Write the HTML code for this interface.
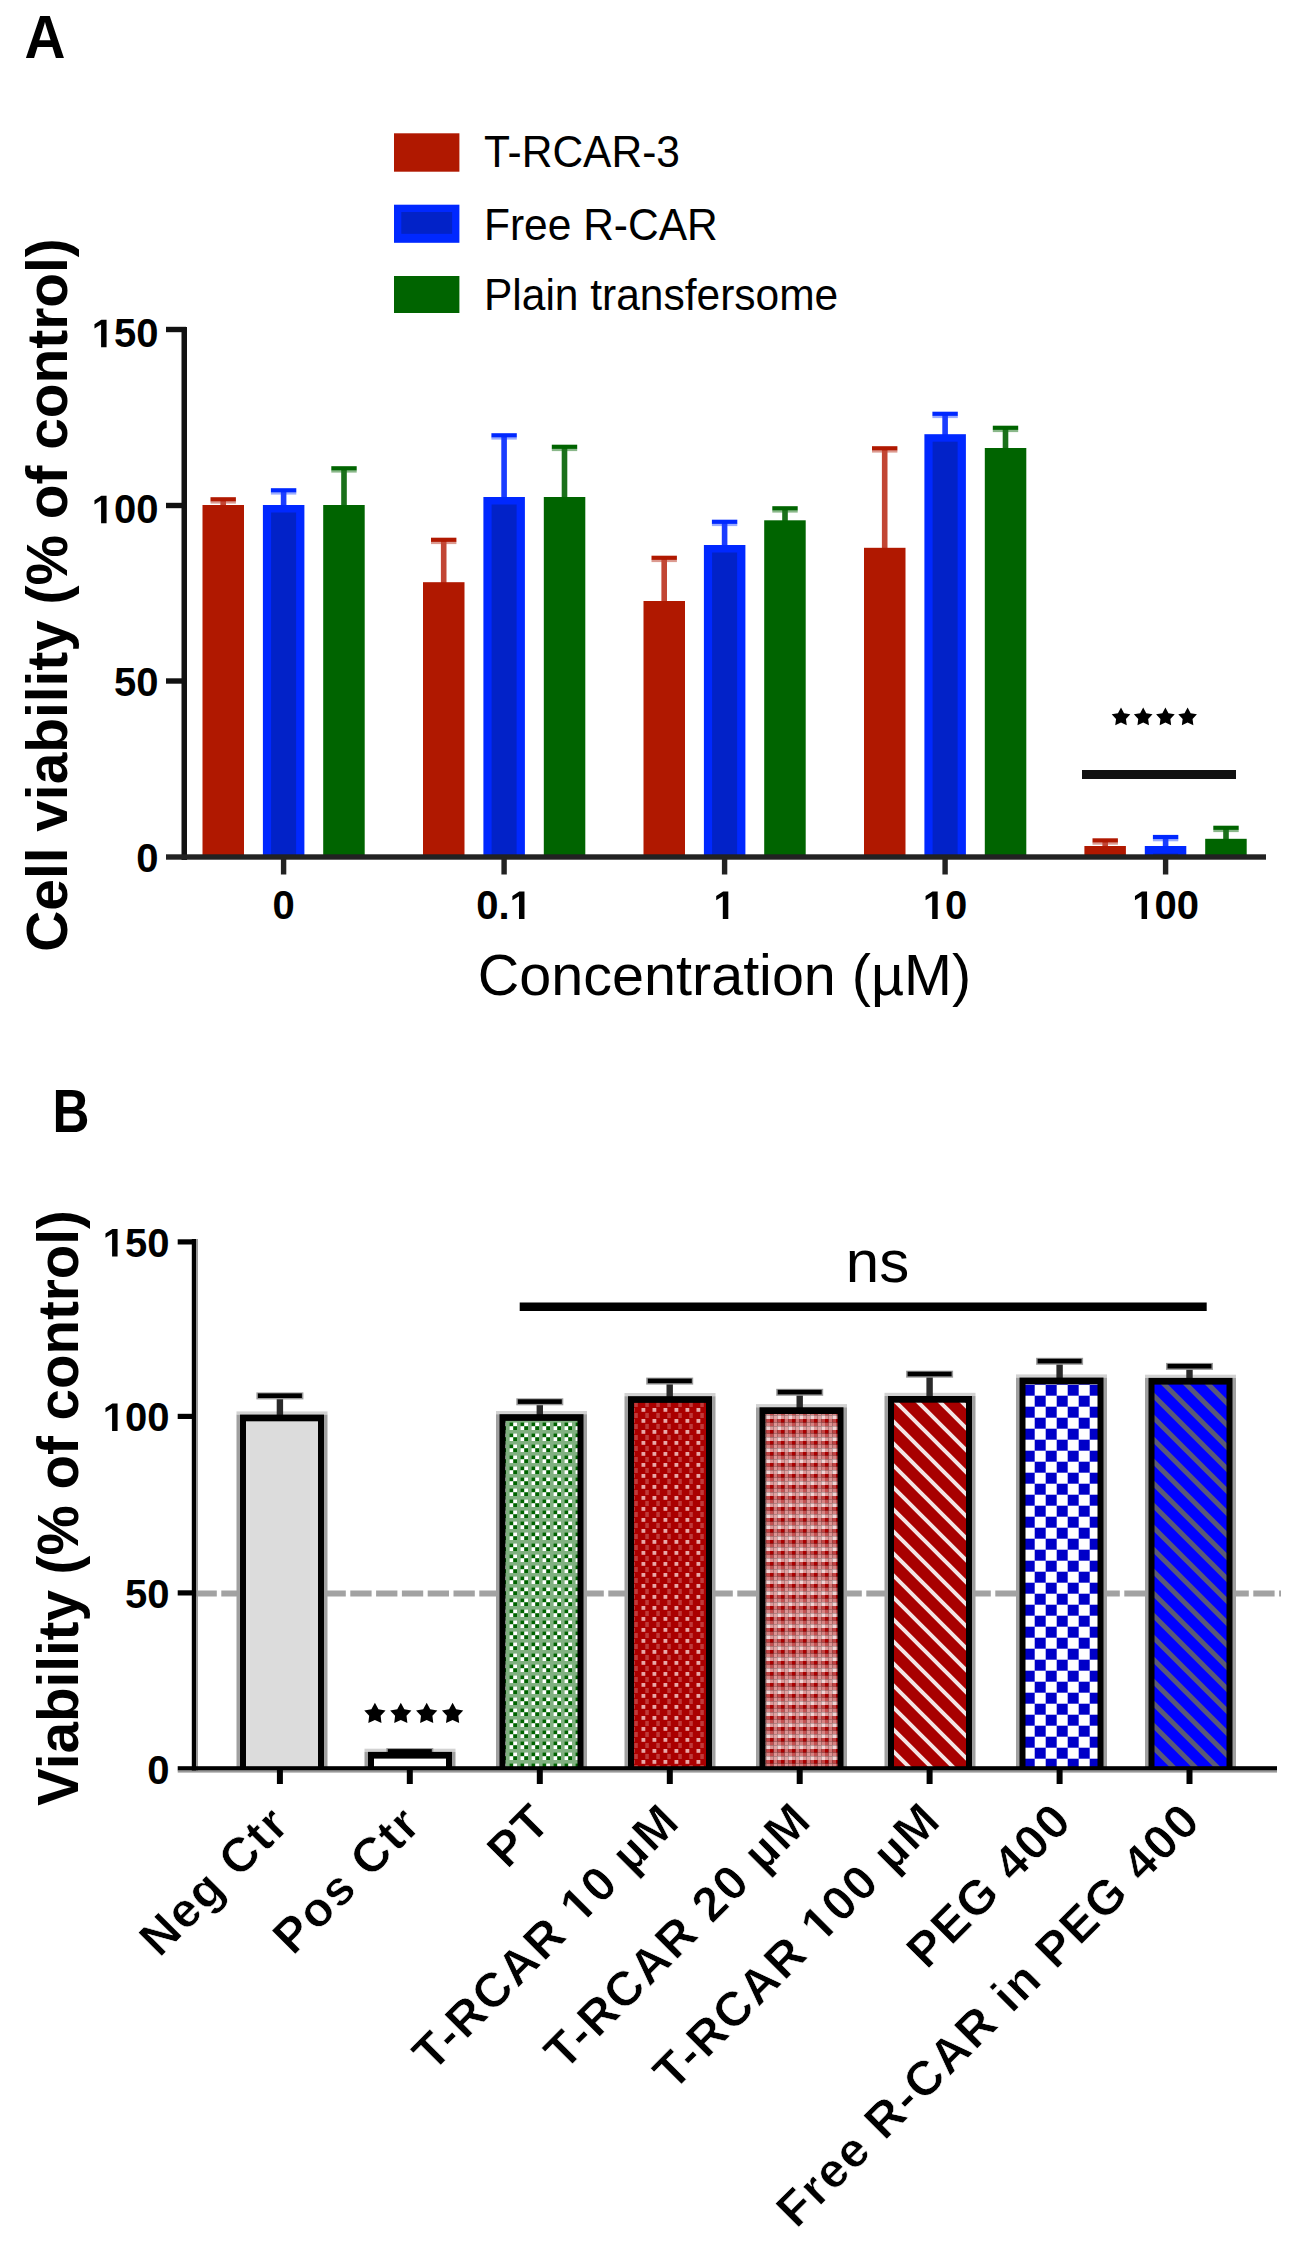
<!DOCTYPE html>
<html><head><meta charset="utf-8"><style>html,body{margin:0;padding:0;background:#fff;}svg{display:block;}text{font-family:"Liberation Sans",sans-serif;}</style></head><body>
<svg width="1299" height="2244" viewBox="0 0 1299 2244">
<defs>
<pattern id="pPT" x="0" y="0" width="11" height="11" patternUnits="userSpaceOnUse">
<rect width="11" height="11" fill="#80b080"></rect>
<rect x="3.6" y="3.6" width="3.7" height="3.7" fill="#006400"></rect><rect x="7.3" y="3.6" width="3.7" height="3.7" fill="#fff"></rect>
<rect x="3.6" y="7.3" width="3.7" height="3.7" fill="#fff"></rect><rect x="7.3" y="7.3" width="3.7" height="3.7" fill="#006400"></rect>
</pattern>
<pattern id="pT10" x="0" y="0" width="11" height="11" patternUnits="userSpaceOnUse">
<rect width="11" height="11" fill="#aa0000"></rect>
<rect x="3.5" y="0" width="3.8" height="3.8" fill="#e8a8a8"></rect>
<rect x="7.3" y="5" width="3.5" height="5" fill="#c03a3a"></rect>
</pattern>
<pattern id="pT20" x="0" y="0" width="11" height="11" patternUnits="userSpaceOnUse"><rect x="0.000" y="0.000" width="3.7" height="3.7" fill="#aa0000"></rect><rect x="3.667" y="0.000" width="3.7" height="3.7" fill="#d27474"></rect><rect x="7.333" y="0.000" width="3.7" height="3.7" fill="#c24444"></rect><rect x="0.000" y="3.667" width="3.7" height="3.7" fill="#c45050"></rect><rect x="3.667" y="3.667" width="3.7" height="3.7" fill="#dc9494"></rect><rect x="7.333" y="3.667" width="3.7" height="3.7" fill="#d68282"></rect><rect x="0.000" y="7.333" width="3.7" height="3.7" fill="#dc9898"></rect><rect x="3.667" y="7.333" width="3.7" height="3.7" fill="#e2a4a4"></rect><rect x="7.333" y="7.333" width="3.7" height="3.7" fill="#f2d2d2"></rect></pattern>
<pattern id="pT100" x="0" y="0" width="22" height="22" patternUnits="userSpaceOnUse">
<rect width="22" height="22" fill="#a80000"></rect>
<path d="M-22,-22 L44,44 M0,-22 L44,22 M-22,0 L22,44" stroke="#f4e4e4" stroke-width="4"></path>
</pattern>
<pattern id="pPEG" x="11.7" y="-1.3" width="22" height="22" patternUnits="userSpaceOnUse">
<rect width="22" height="22" fill="#fff"></rect>
<rect x="0" y="0" width="11" height="11" fill="#0000c8"></rect><rect x="11" y="11" width="11" height="11" fill="#0000c8"></rect>
</pattern>
<pattern id="pFree" x="0" y="0" width="22" height="22" patternUnits="userSpaceOnUse">
<rect width="22" height="22" fill="#0000ff"></rect>
<path d="M-22,-22 L44,44 M0,-22 L44,22 M-22,0 L22,44" stroke="#5a5a78" stroke-width="5"></path>
</pattern>
</defs>
<rect x="0" y="0" width="1299" height="2244" fill="#fff"></rect>
<text transform="translate(24.5,57.5) scale(0.93,1)" font-size="61" font-weight="bold">A</text>
<rect x="394" y="133.3" width="65.4" height="38.4" fill="#b01800"></rect>
<rect x="394" y="204.7" width="65.4" height="38.1" fill="#0028ff"></rect><rect x="401.3" y="212" width="50.8" height="21.8" fill="#0222c8"></rect>
<rect x="394" y="276" width="65.4" height="37" fill="#006400"></rect>
<text transform="translate(484,167) scale(1,1.06)" font-size="42.5">T-RCAR-3</text>
<text transform="translate(484,240) scale(1,1.06)" font-size="42.5">Free R-CAR</text>
<text transform="translate(484,309.5) scale(1,1.06)" font-size="42.5">Plain transfersome</text>
<rect x="210.5" y="501.2" width="25.4" height="2.4" fill="#dc9a90"></rect>
<rect x="220.4" y="499.5" width="5.6" height="7.5" fill="#c24634"></rect>
<rect x="210.5" y="497.2" width="25.4" height="4.2" fill="#b01800"></rect>
<rect x="202.5" y="505.0" width="41.5" height="352.0" fill="#b01800"></rect>
<rect x="270.9" y="492.2" width="25.4" height="2.4" fill="#9aacff"></rect>
<rect x="280.8" y="490.5" width="5.6" height="16.5" fill="#1a3cff"></rect>
<rect x="270.9" y="488.2" width="25.4" height="4.2" fill="#0028ff"></rect>
<rect x="262.9" y="505.0" width="41.5" height="352.0" fill="#0028ff"></rect>
<rect x="271.1" y="512.5" width="25" height="344.5" fill="#0222c8"></rect>
<rect x="331.3" y="470.2" width="25.4" height="2.4" fill="#8ab88a"></rect>
<rect x="341.2" y="468.5" width="5.6" height="38.5" fill="#1a701a"></rect>
<rect x="331.3" y="466.2" width="25.4" height="4.2" fill="#006400"></rect>
<rect x="323.2" y="505.0" width="41.5" height="352.0" fill="#006400"></rect>
<rect x="431.0" y="541.7" width="25.4" height="2.4" fill="#dc9a90"></rect>
<rect x="440.9" y="540.0" width="5.6" height="44.2" fill="#c24634"></rect>
<rect x="431.0" y="537.7" width="25.4" height="4.2" fill="#b01800"></rect>
<rect x="423.0" y="582.2" width="41.5" height="274.8" fill="#b01800"></rect>
<rect x="491.4" y="437.2" width="25.4" height="2.4" fill="#9aacff"></rect>
<rect x="501.3" y="435.5" width="5.6" height="63.5" fill="#1a3cff"></rect>
<rect x="491.4" y="433.2" width="25.4" height="4.2" fill="#0028ff"></rect>
<rect x="483.4" y="497.0" width="41.5" height="360.0" fill="#0028ff"></rect>
<rect x="491.6" y="504.5" width="25" height="352.5" fill="#0222c8"></rect>
<rect x="551.8" y="448.7" width="25.4" height="2.4" fill="#8ab88a"></rect>
<rect x="561.7" y="447.0" width="5.6" height="52.0" fill="#1a701a"></rect>
<rect x="551.8" y="444.7" width="25.4" height="4.2" fill="#006400"></rect>
<rect x="543.8" y="497.0" width="41.5" height="360.0" fill="#006400"></rect>
<rect x="651.5" y="559.7" width="25.4" height="2.4" fill="#dc9a90"></rect>
<rect x="661.4" y="558.0" width="5.6" height="45.0" fill="#c24634"></rect>
<rect x="651.5" y="555.7" width="25.4" height="4.2" fill="#b01800"></rect>
<rect x="643.5" y="601.0" width="41.5" height="256.0" fill="#b01800"></rect>
<rect x="711.9" y="523.7" width="25.4" height="2.4" fill="#9aacff"></rect>
<rect x="721.8" y="522.0" width="5.6" height="25.0" fill="#1a3cff"></rect>
<rect x="711.9" y="519.7" width="25.4" height="4.2" fill="#0028ff"></rect>
<rect x="703.9" y="545.0" width="41.5" height="312.0" fill="#0028ff"></rect>
<rect x="712.1" y="552.5" width="25" height="304.5" fill="#0222c8"></rect>
<rect x="772.3" y="510.2" width="25.4" height="2.4" fill="#8ab88a"></rect>
<rect x="782.2" y="508.5" width="5.6" height="13.8" fill="#1a701a"></rect>
<rect x="772.3" y="506.2" width="25.4" height="4.2" fill="#006400"></rect>
<rect x="764.2" y="520.3" width="41.5" height="336.7" fill="#006400"></rect>
<rect x="872.0" y="450.2" width="25.4" height="2.4" fill="#dc9a90"></rect>
<rect x="881.9" y="448.5" width="5.6" height="101.3" fill="#c24634"></rect>
<rect x="872.0" y="446.2" width="25.4" height="4.2" fill="#b01800"></rect>
<rect x="864.0" y="547.8" width="41.5" height="309.2" fill="#b01800"></rect>
<rect x="932.4" y="415.7" width="25.4" height="2.4" fill="#9aacff"></rect>
<rect x="942.3" y="414.0" width="5.6" height="22.2" fill="#1a3cff"></rect>
<rect x="932.4" y="411.7" width="25.4" height="4.2" fill="#0028ff"></rect>
<rect x="924.4" y="434.2" width="41.5" height="422.8" fill="#0028ff"></rect>
<rect x="932.6" y="441.7" width="25" height="415.3" fill="#0222c8"></rect>
<rect x="992.8" y="429.7" width="25.4" height="2.4" fill="#8ab88a"></rect>
<rect x="1002.7" y="428.0" width="5.6" height="22.0" fill="#1a701a"></rect>
<rect x="992.8" y="425.7" width="25.4" height="4.2" fill="#006400"></rect>
<rect x="984.8" y="448.0" width="41.5" height="409.0" fill="#006400"></rect>
<rect x="1092.5" y="842.3" width="25.4" height="2.4" fill="#dc9a90"></rect>
<rect x="1102.4" y="840.6" width="5.6" height="7.4" fill="#c24634"></rect>
<rect x="1092.5" y="838.3" width="25.4" height="4.2" fill="#b01800"></rect>
<rect x="1084.4" y="846.0" width="41.5" height="11.0" fill="#b01800"></rect>
<rect x="1152.9" y="838.9" width="25.4" height="2.4" fill="#9aacff"></rect>
<rect x="1162.8" y="837.2" width="5.6" height="10.8" fill="#1a3cff"></rect>
<rect x="1152.9" y="834.9" width="25.4" height="4.2" fill="#0028ff"></rect>
<rect x="1144.8" y="846.0" width="41.5" height="11.0" fill="#0028ff"></rect>
<rect x="1153.1" y="853.5" width="25" height="3.5" fill="#0222c8"></rect>
<rect x="1213.3" y="829.7" width="25.4" height="2.4" fill="#8ab88a"></rect>
<rect x="1223.2" y="828.0" width="5.6" height="12.8" fill="#1a701a"></rect>
<rect x="1213.3" y="825.7" width="25.4" height="4.2" fill="#006400"></rect>
<rect x="1205.2" y="838.8" width="41.5" height="18.2" fill="#006400"></rect>
<rect x="181.5" y="327" width="5.5" height="533" fill="#111"></rect>
<rect x="166" y="326.8" width="20" height="5.4" fill="#111"></rect>
<rect x="166" y="502.8" width="20" height="5.4" fill="#111"></rect>
<rect x="166" y="678.3" width="20" height="5.4" fill="#111"></rect>
<rect x="166" y="854.3" width="1100" height="5.4" fill="#222"></rect>
<rect x="280.9" y="857" width="5.4" height="17.5" fill="#222"></rect>
<rect x="501.4" y="857" width="5.4" height="17.5" fill="#222"></rect>
<rect x="721.9" y="857" width="5.4" height="17.5" fill="#222"></rect>
<rect x="942.4" y="857" width="5.4" height="17.5" fill="#222"></rect>
<rect x="1162.9" y="857" width="5.4" height="17.5" fill="#222"></rect>
<text x="158.5" y="347.3" font-size="40" font-weight="bold" text-anchor="end"> 50</text><g><path d="M101.09,347.30 L101.09,324.45 L94.48,328.57 L94.48,324.25 L101.38,319.78 L106.57,319.78 L106.57,347.30 Z"></path></g>
<text x="158.5" y="523.2" font-size="40" font-weight="bold" text-anchor="end"> 00</text><g><path d="M101.09,523.20 L101.09,500.35 L94.48,504.47 L94.48,500.15 L101.38,495.68 L106.57,495.68 L106.57,523.20 Z"></path></g>
<text x="158.5" y="695.7" font-size="40" font-weight="bold" text-anchor="end">50</text>
<text x="158.5" y="872.0" font-size="40" font-weight="bold" text-anchor="end">0</text>
<text x="283.6" y="919" font-size="40" font-weight="bold" text-anchor="middle">0</text>
<text x="504.1" y="919" font-size="40" font-weight="bold" text-anchor="middle">0. </text><g><path d="M518.99,919.00 L518.99,896.15 L512.39,900.27 L512.39,895.95 L519.28,891.48 L524.48,891.48 L524.48,919.00 Z"></path></g>
<text x="724.6" y="919" font-size="40" font-weight="bold" text-anchor="middle"> </text><g><path d="M722.81,919.00 L722.81,896.15 L716.21,900.27 L716.21,895.95 L723.10,891.48 L728.30,891.48 L728.30,919.00 Z"></path></g>
<text x="945.1" y="919" font-size="40" font-weight="bold" text-anchor="middle"> 0</text><g><path d="M932.19,919.00 L932.19,896.15 L925.58,900.27 L925.58,895.95 L932.48,891.48 L937.67,891.48 L937.67,919.00 Z"></path></g>
<text x="1165.6" y="919" font-size="40" font-weight="bold" text-anchor="middle"> 00</text><g><path d="M1141.56,919.00 L1141.56,896.15 L1134.96,900.27 L1134.96,895.95 L1141.85,891.48 L1147.05,891.48 L1147.05,919.00 Z"></path></g>
<text x="724.5" y="995.3" font-size="57.5" text-anchor="middle">Concentration (µM)</text>
<text transform="translate(67.3,595) rotate(-90) scale(0.98,1)" font-size="58" font-weight="bold" text-anchor="middle">Cell viability (% of control)</text>
<rect x="1082" y="770" width="154" height="9" fill="#111"></rect>
<polygon points="1121.00,707.60 1124.06,713.19 1130.32,714.37 1125.95,719.01 1126.76,725.33 1121.00,722.60 1115.24,725.33 1116.05,719.01 1111.68,714.37 1117.94,713.19" fill="#000"></polygon>
<polygon points="1143.20,707.60 1146.26,713.19 1152.52,714.37 1148.15,719.01 1148.96,725.33 1143.20,722.60 1137.44,725.33 1138.25,719.01 1133.88,714.37 1140.14,713.19" fill="#000"></polygon>
<polygon points="1165.40,707.60 1168.46,713.19 1174.72,714.37 1170.35,719.01 1171.16,725.33 1165.40,722.60 1159.64,725.33 1160.45,719.01 1156.08,714.37 1162.34,713.19" fill="#000"></polygon>
<polygon points="1187.60,707.60 1190.66,713.19 1196.92,714.37 1192.55,719.01 1193.36,725.33 1187.60,722.60 1181.84,725.33 1182.65,719.01 1178.28,714.37 1184.54,713.19" fill="#000"></polygon>
<text transform="translate(52.5,1131.5) scale(0.84,1)" font-size="61" font-weight="bold">B</text>
<line x1="195.5" y1="1593.6" x2="1281" y2="1593.6" stroke="#a2a2a2" stroke-width="6" stroke-dasharray="21.3 4.5"></line>
<rect x="236.5" y="1411.4" width="91" height="3.2" fill="#d2d2d2"></rect>
<rect x="236.5" y="1414.6" width="91" height="354.4" fill="#a0a0a0"></rect>
<rect x="276.7" y="1395.8" width="6.4" height="21.8" fill="#2a2a2a"></rect>
<rect x="256.4" y="1392.4" width="47" height="7" fill="#9a9a9a"></rect>
<rect x="257.9" y="1393.4" width="44" height="4.6" fill="#000"></rect>
<rect x="240.0" y="1414.6" width="84" height="354.4" fill="#000"></rect>
<rect x="246.0" y="1421.3" width="72" height="347.7" fill="#dcdcdc"></rect>
<rect x="364.5" y="1748.7" width="91" height="3.2" fill="#d2d2d2"></rect>
<rect x="364.5" y="1751.9" width="91" height="17.1" fill="#a0a0a0"></rect>
<rect x="406.6" y="1751.5" width="6.4" height="3.4" fill="#2a2a2a"></rect>
<rect x="386.3" y="1748.1" width="47" height="7" fill="#9a9a9a"></rect>
<rect x="387.8" y="1749.1" width="44" height="4.6" fill="#000"></rect>
<rect x="368.0" y="1751.9" width="84" height="17.1" fill="#000"></rect>
<rect x="374.0" y="1758.6" width="72" height="10.4" fill="#ffffff"></rect>
<rect x="496.0" y="1411.0" width="91" height="3.2" fill="#d2d2d2"></rect>
<rect x="496.0" y="1414.2" width="91" height="354.8" fill="#a0a0a0"></rect>
<rect x="536.6" y="1401.7" width="6.4" height="15.5" fill="#2a2a2a"></rect>
<rect x="516.3" y="1398.3" width="47" height="7" fill="#9a9a9a"></rect>
<rect x="517.8" y="1399.3" width="44" height="4.6" fill="#000"></rect>
<rect x="499.5" y="1414.2" width="84" height="354.8" fill="#000"></rect>
<rect x="505.5" y="1420.9" width="72" height="348.1" fill="url(#pPT)"></rect>
<rect x="624.5" y="1393.0" width="91" height="3.2" fill="#d2d2d2"></rect>
<rect x="624.5" y="1396.2" width="91" height="372.8" fill="#a0a0a0"></rect>
<rect x="666.5" y="1381.0" width="6.4" height="18.2" fill="#2a2a2a"></rect>
<rect x="646.2" y="1377.6" width="47" height="7" fill="#9a9a9a"></rect>
<rect x="647.8" y="1378.6" width="44" height="4.6" fill="#000"></rect>
<rect x="628.0" y="1396.2" width="84" height="372.8" fill="#000"></rect>
<rect x="634.0" y="1402.9" width="72" height="366.1" fill="url(#pT10)"></rect>
<rect x="756.0" y="1404.1" width="91" height="3.2" fill="#d2d2d2"></rect>
<rect x="756.0" y="1407.3" width="91" height="361.7" fill="#a0a0a0"></rect>
<rect x="796.5" y="1392.2" width="6.4" height="18.1" fill="#2a2a2a"></rect>
<rect x="776.2" y="1388.8" width="47" height="7" fill="#9a9a9a"></rect>
<rect x="777.7" y="1389.8" width="44" height="4.6" fill="#000"></rect>
<rect x="759.5" y="1407.3" width="84" height="361.7" fill="#000"></rect>
<rect x="765.5" y="1414.0" width="72" height="355.0" fill="url(#pT20)"></rect>
<rect x="884.5" y="1392.8" width="91" height="3.2" fill="#d2d2d2"></rect>
<rect x="884.5" y="1396.0" width="91" height="373.0" fill="#a0a0a0"></rect>
<rect x="926.4" y="1374.1" width="6.4" height="24.9" fill="#2a2a2a"></rect>
<rect x="906.1" y="1370.7" width="47" height="7" fill="#9a9a9a"></rect>
<rect x="907.6" y="1371.7" width="44" height="4.6" fill="#000"></rect>
<rect x="888.0" y="1396.0" width="84" height="373.0" fill="#000"></rect>
<rect x="894.0" y="1402.7" width="72" height="366.3" fill="url(#pT100)"></rect>
<rect x="1016.0" y="1374.4" width="91" height="3.2" fill="#d2d2d2"></rect>
<rect x="1016.0" y="1377.6" width="91" height="391.4" fill="#a0a0a0"></rect>
<rect x="1056.4" y="1361.2" width="6.4" height="19.4" fill="#2a2a2a"></rect>
<rect x="1036.1" y="1357.8" width="47" height="7" fill="#9a9a9a"></rect>
<rect x="1037.6" y="1358.8" width="44" height="4.6" fill="#000"></rect>
<rect x="1019.5" y="1377.6" width="84" height="391.4" fill="#000"></rect>
<rect x="1025.5" y="1384.3" width="72" height="384.7" fill="url(#pPEG)"></rect>
<rect x="1145.0" y="1374.7" width="91" height="3.2" fill="#d2d2d2"></rect>
<rect x="1145.0" y="1377.9" width="91" height="391.1" fill="#a0a0a0"></rect>
<rect x="1186.3" y="1366.3" width="6.4" height="14.6" fill="#2a2a2a"></rect>
<rect x="1166.0" y="1362.9" width="47" height="7" fill="#9a9a9a"></rect>
<rect x="1167.5" y="1363.9" width="44" height="4.6" fill="#000"></rect>
<rect x="1148.5" y="1377.9" width="84" height="391.1" fill="#000"></rect>
<rect x="1154.5" y="1384.6" width="72" height="384.4" fill="url(#pFree)"></rect>
<rect x="191.8" y="1239" width="4.6" height="533" fill="#000"></rect><rect x="196.4" y="1239" width="1.6" height="533" fill="#999"></rect>
<rect x="177.7" y="1239.3" width="18" height="5.2" fill="#000"></rect>
<rect x="177.7" y="1413.8" width="18" height="5.2" fill="#000"></rect>
<rect x="177.7" y="1590.3" width="18" height="5.2" fill="#000"></rect>
<rect x="177.7" y="1766.2" width="1099.3" height="4.4" fill="#000"></rect><rect x="177.7" y="1770.6" width="1099.3" height="2" fill="#999"></rect>
<rect x="276.9" y="1769" width="6" height="15" fill="#000"></rect>
<rect x="406.8" y="1769" width="6" height="15" fill="#000"></rect>
<rect x="536.8" y="1769" width="6" height="15" fill="#000"></rect>
<rect x="666.8" y="1769" width="6" height="15" fill="#000"></rect>
<rect x="796.7" y="1769" width="6" height="15" fill="#000"></rect>
<rect x="926.6" y="1769" width="6" height="15" fill="#000"></rect>
<rect x="1056.6" y="1769" width="6" height="15" fill="#000"></rect>
<rect x="1186.5" y="1769" width="6" height="15" fill="#000"></rect>
<text x="169.5" y="1256.5" font-size="40" font-weight="bold" text-anchor="end"> 50</text><g><path d="M112.09,1256.50 L112.09,1233.65 L105.48,1237.77 L105.48,1233.45 L112.38,1228.98 L117.57,1228.98 L117.57,1256.50 Z"></path></g>
<text x="169.5" y="1431.0" font-size="40" font-weight="bold" text-anchor="end"> 00</text><g><path d="M112.09,1431.00 L112.09,1408.15 L105.48,1412.27 L105.48,1407.95 L112.38,1403.48 L117.57,1403.48 L117.57,1431.00 Z"></path></g>
<text x="169.5" y="1607.5" font-size="40" font-weight="bold" text-anchor="end">50</text>
<text x="169.5" y="1783.5" font-size="40" font-weight="bold" text-anchor="end">0</text>
<text transform="translate(78.3,1508) rotate(-90) scale(0.975,1)" font-size="58" font-weight="bold" text-anchor="middle">Viability (% of control)</text>
<rect x="519.7" y="1302.5" width="687" height="8.5" fill="#000"></rect>
<text x="877.5" y="1282" font-size="60" text-anchor="middle">ns</text>
<polygon points="374.90,1702.80 378.43,1709.15 385.55,1710.54 380.61,1715.85 381.48,1723.06 374.90,1720.00 368.32,1723.06 369.19,1715.85 364.25,1710.54 371.37,1709.15" fill="#000"></polygon>
<polygon points="400.80,1702.80 404.33,1709.15 411.45,1710.54 406.51,1715.85 407.38,1723.06 400.80,1720.00 394.22,1723.06 395.09,1715.85 390.15,1710.54 397.27,1709.15" fill="#000"></polygon>
<polygon points="426.70,1702.80 430.23,1709.15 437.35,1710.54 432.41,1715.85 433.28,1723.06 426.70,1720.00 420.12,1723.06 420.99,1715.85 416.05,1710.54 423.17,1709.15" fill="#000"></polygon>
<polygon points="452.60,1702.80 456.13,1709.15 463.25,1710.54 458.31,1715.85 459.18,1723.06 452.60,1720.00 446.02,1723.06 446.89,1715.85 441.95,1710.54 449.07,1709.15" fill="#000"></polygon>
<text transform="translate(291.80,1826.2) rotate(-45)" font-size="48.5" font-weight="bold" letter-spacing="1.7" text-anchor="end" stroke="#fff" stroke-width="0.6">Neg Ctr</text>
<text transform="translate(423.40,1826.2) rotate(-45)" font-size="48.5" font-weight="bold" letter-spacing="1.7" text-anchor="end" stroke="#fff" stroke-width="0.6">Pos Ctr</text>
<text transform="translate(553.40,1823.8) rotate(-45)" font-size="48.5" font-weight="bold" letter-spacing="1.7" text-anchor="end" stroke="#fff" stroke-width="0.6">PT</text>
<text transform="translate(682.20,1823.8) rotate(-45)" font-size="48.5" font-weight="bold" letter-spacing="1.7" text-anchor="end" stroke="#fff" stroke-width="0.6">T-RCAR  0 µM</text><g transform="translate(682.20,1823.8) rotate(-45)" stroke="#fff" stroke-width="0.6"><path d="M-132.96,0.00 L-132.96,-27.71 L-140.97,-22.71 L-140.97,-27.94 L-132.61,-33.37 L-126.31,-33.37 L-126.31,0.00 Z"></path></g>
<text transform="translate(814.00,1822.5) rotate(-45)" font-size="48.5" font-weight="bold" letter-spacing="1.7" text-anchor="end" stroke="#fff" stroke-width="0.6">T-RCAR 20 µM</text>
<text transform="translate(943.30,1822.5) rotate(-45)" font-size="48.5" font-weight="bold" letter-spacing="1.7" text-anchor="end" stroke="#fff" stroke-width="0.6">T-RCAR  00 µM</text><g transform="translate(943.30,1822.5) rotate(-45)" stroke="#fff" stroke-width="0.6"><path d="M-161.65,0.00 L-161.65,-27.71 L-169.65,-22.71 L-169.65,-27.94 L-161.29,-33.37 L-154.99,-33.37 L-154.99,0.00 Z"></path></g>
<text transform="translate(1074.40,1823) rotate(-45)" font-size="48.5" font-weight="bold" letter-spacing="1.7" text-anchor="end" stroke="#fff" stroke-width="0.6">PEG 400</text>
<text transform="translate(1203.00,1823) rotate(-45)" font-size="48.5" font-weight="bold" letter-spacing="1.7" text-anchor="end" stroke="#fff" stroke-width="0.6">Free R-CAR in PEG 400</text>
</svg></body></html>
